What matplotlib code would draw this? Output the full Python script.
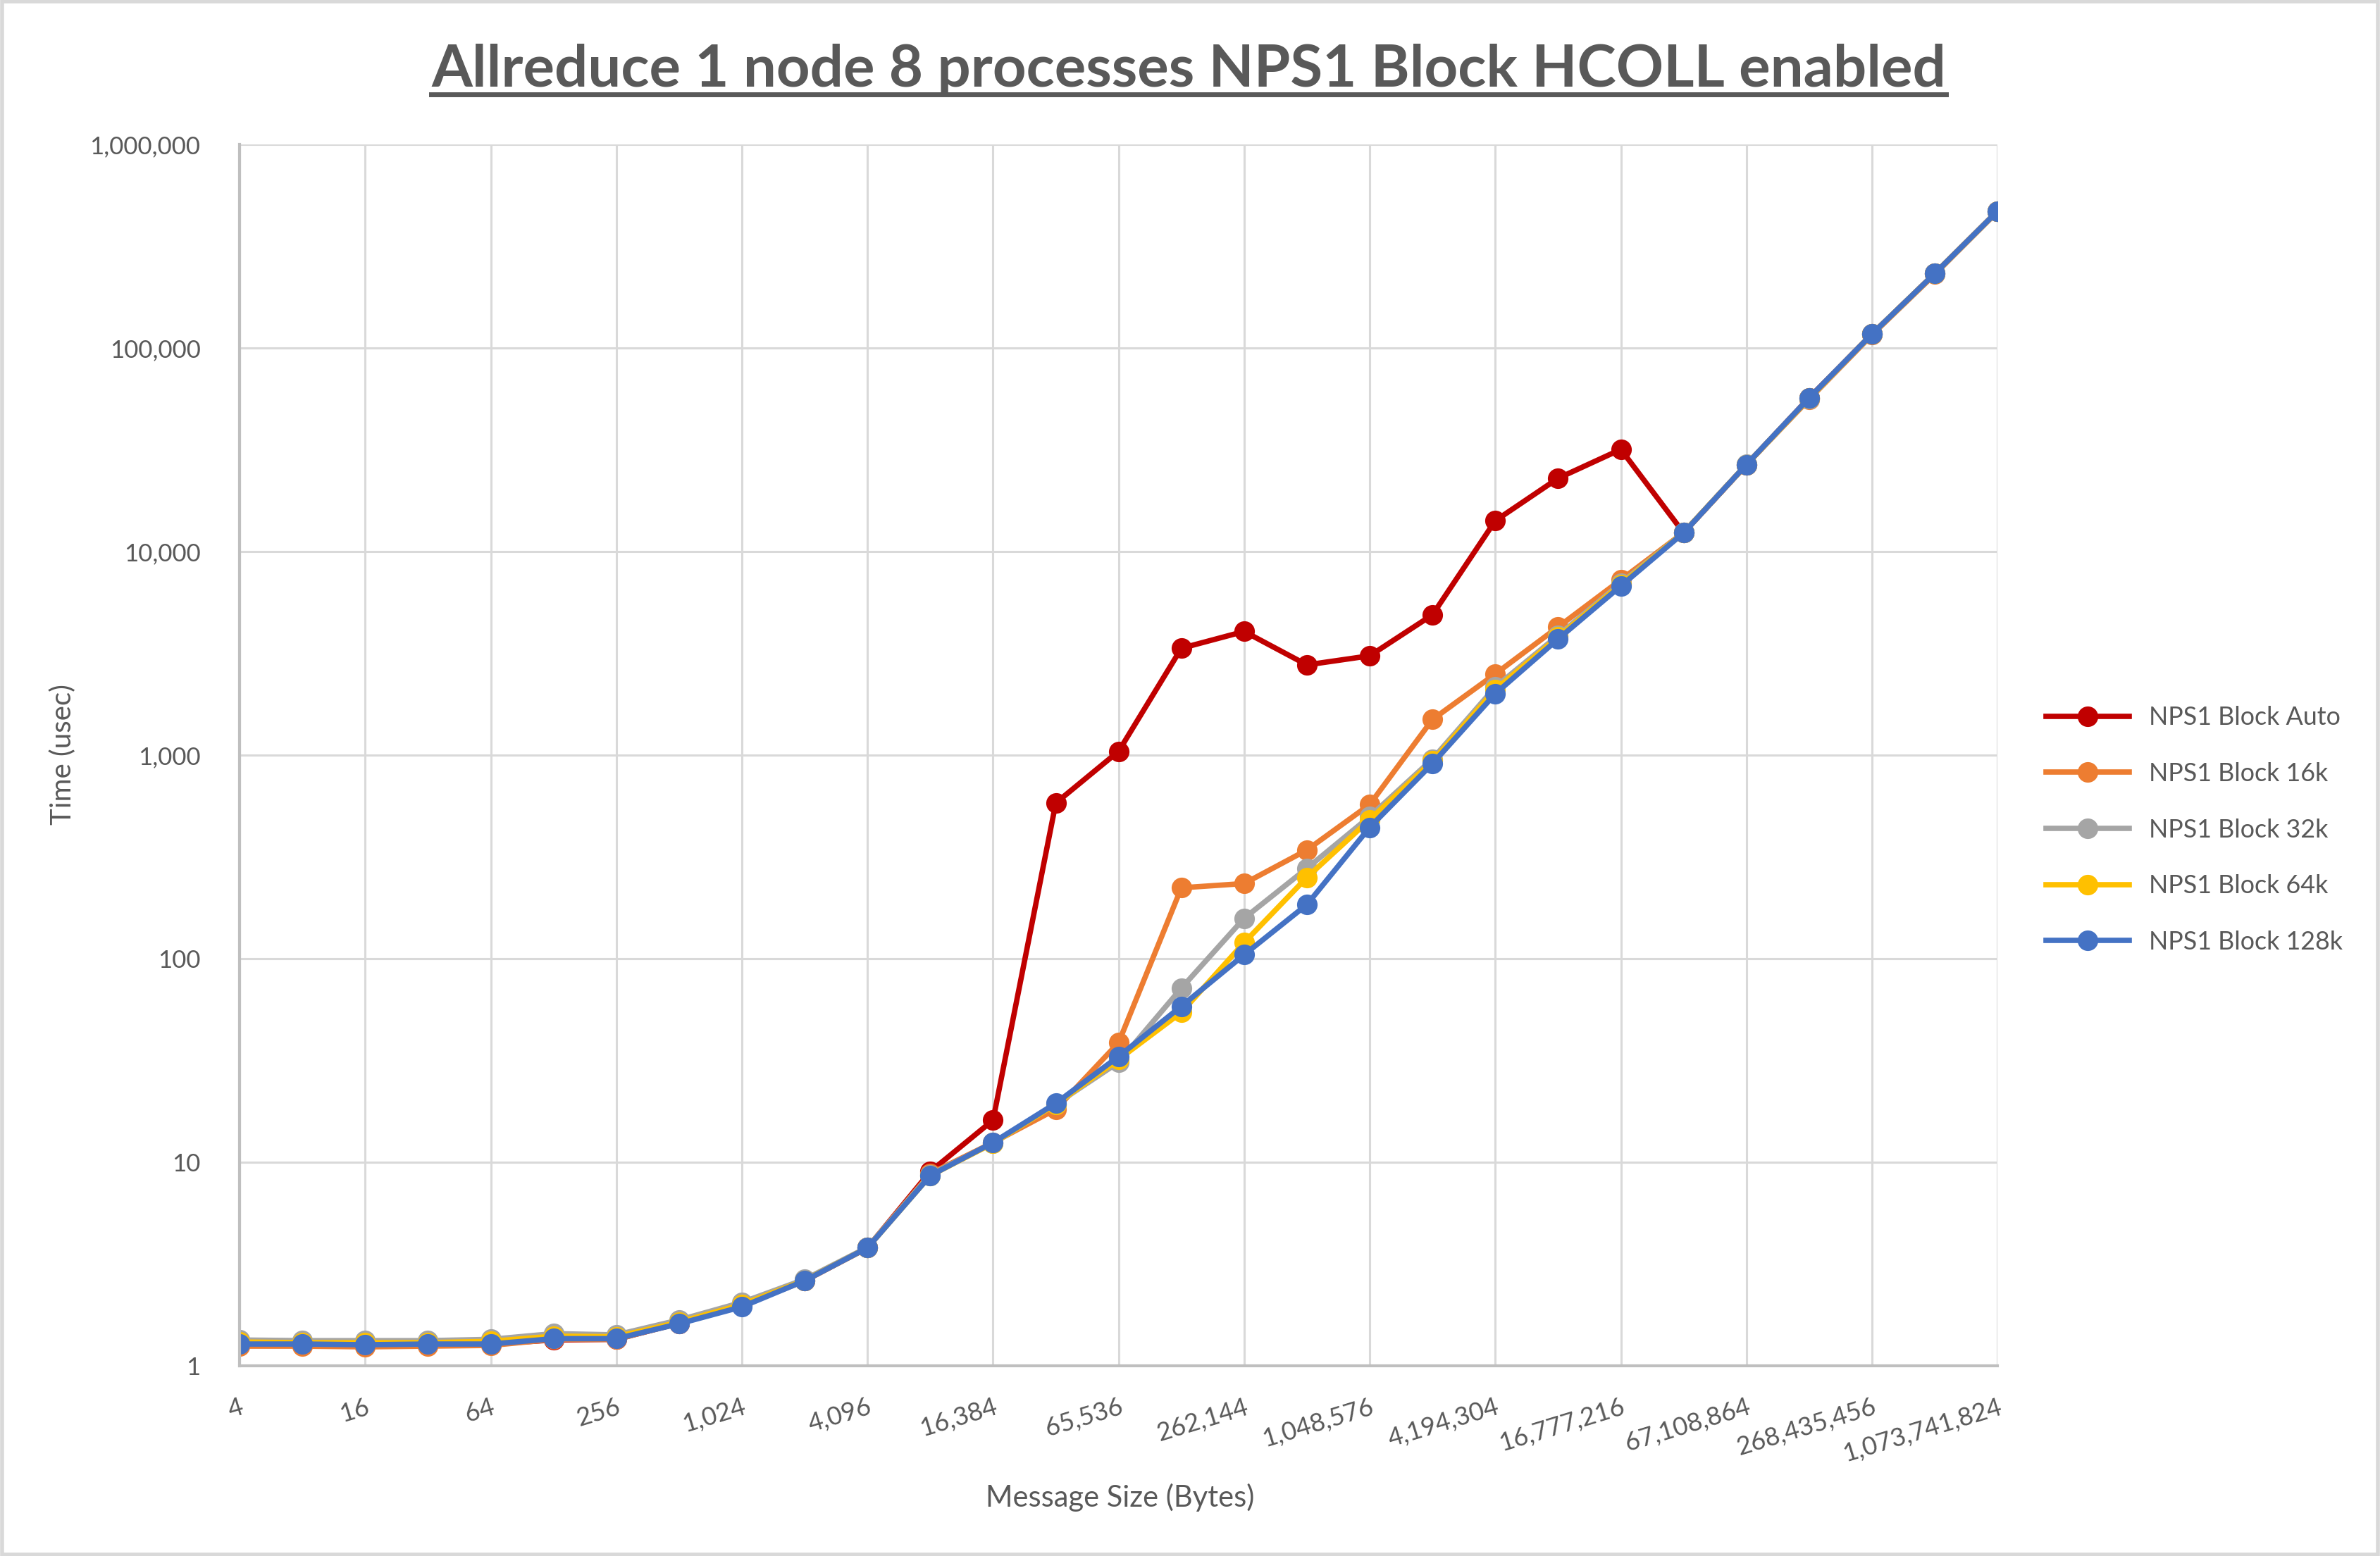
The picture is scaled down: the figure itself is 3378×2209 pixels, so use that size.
import matplotlib
matplotlib.use("Agg")
import matplotlib.pyplot as plt
from matplotlib.lines import Line2D
from matplotlib.patches import Rectangle
from matplotlib.ticker import FixedLocator, NullLocator, FuncFormatter

plt.rcParams['font.family'] = ['Lato', 'DejaVu Sans']

# Message sizes 4 B .. 1 GiB
sizes = [2 ** k for k in range(2, 31)]

# Time (usec) per series
auto = [1.27, 1.27, 1.26, 1.27, 1.28, 1.34, 1.35, 1.62, 1.98, 2.62, 3.80, 9.0, 16.1,
        582, 1044, 3350, 4050, 2775, 3075, 4890, 14170, 22900, 31750, 12360,
        26700, 56900, 117000, 232000, 470000]
block16k = [1.25, 1.25, 1.24, 1.25, 1.26, 1.35, 1.35, 1.62, 1.98, 2.62, 3.80, 8.8, 12.5,
            18.2, 38.7, 223, 234, 342, 572, 1497, 2504, 4260, 7260, 12400,
            26700, 56000, 116000, 230000, 468000]
block32k = [1.34, 1.33, 1.33, 1.33, 1.35, 1.44, 1.42, 1.68, 2.05, 2.66, 3.82, 8.7, 12.4,
            19.3, 31.0, 71.7, 158, 278, 499, 957, 2160, 3870, 7000, 12400,
            26800, 56500, 117000, 232000, 470000]
block64k = [1.31, 1.30, 1.30, 1.30, 1.32, 1.40, 1.39, 1.64, 2.00, 2.63, 3.80, 8.6, 12.4,
            19.3, 32.0, 54.5, 120, 251, 482, 935, 2100, 3800, 6900, 12400,
            26700, 56600, 117000, 232000, 470000]
block128k = [1.28, 1.28, 1.27, 1.28, 1.28, 1.36, 1.36, 1.61, 1.95, 2.62, 3.80, 8.6, 12.5,
             19.5, 33.1, 58.4, 104.6, 184.5, 442, 909, 2003, 3718, 6774, 12360,
             26730, 56900, 117000, 232000, 470000]

series_names = ['NPS1 Block Auto', 'NPS1 Block 16k', 'NPS1 Block 32k',
                'NPS1 Block 64k', 'NPS1 Block 128k']
series_values = [auto, block16k, block32k, block64k, block128k]
series_colors = ['#C00000', '#ED7D31', '#A5A5A5', '#FFC000', '#4472C4']

x_ticks = [2 ** k for k in range(2, 31, 2)]
y_ticks = [1, 10, 100, 1000, 10000, 100000, 1000000]

text_color = '#595959'
grid_color = '#D9D9D9'

fig = plt.figure(figsize=(33.78, 22.09), dpi=100)
ax = fig.add_axes([0.1007, 0.1222, 0.7386, 0.785])

for name, vals, col in zip(series_names, series_values, series_colors):
    ax.plot(sizes, vals, color=col, lw=5.5, marker='o', ms=21,
            markeredgewidth=0, label=name, solid_joinstyle='round')

ax.set_xscale('log', base=2)
ax.set_yscale('log')
ax.set_xlim(4, 2 ** 30)
ax.set_ylim(1, 1000000)

ax.xaxis.set_major_locator(FixedLocator(x_ticks))
ax.xaxis.set_minor_locator(NullLocator())
ax.xaxis.set_major_formatter(FuncFormatter(lambda v, p: f'{int(round(v)):,}'))
ax.yaxis.set_major_locator(FixedLocator(y_ticks))
ax.yaxis.set_minor_locator(NullLocator())
ax.yaxis.set_major_formatter(FuncFormatter(lambda v, p: f'{int(round(v)):,}'))

ax.grid(True, color=grid_color, lw=2.2)
ax.set_axisbelow(True)
ax.tick_params(length=0, colors=text_color, labelsize=25)
ax.tick_params(axis='y', pad=40)
ax.tick_params(axis='x', pad=30, labelsize=26)
for lbl in ax.get_xticklabels():
    lbl.set_rotation(17)
    lbl.set_ha('right')
    lbl.set_va('top')
    lbl.set_rotation_mode('anchor')

for side in ['top', 'right']:
    ax.spines[side].set_visible(False)
for side in ['left', 'bottom']:
    ax.spines[side].set_color('#BFBFBF')
    ax.spines[side].set_linewidth(3)

fig.text(0.0265, 0.515, 'Time (usec)', rotation=90, ha='center', va='center',
         fontsize=29, color=text_color)
fig.text(0.4706, 0.0375, 'Message Size (Bytes)', ha='center', va='center',
         fontsize=30, color=text_color)

title = fig.text(0.4995, 0.955, 'Allreduce 1 node 8 processes NPS1 Block HCOLL enabled',
                 ha='center', va='center', fontsize=60, fontweight='bold',
                 color=text_color)

leg = ax.legend(loc='center left', bbox_to_anchor=(0.850, 0.4667),
                bbox_transform=fig.transFigure, frameon=False, fontsize=25.8,
                handlelength=3.3, handletextpad=0.8, labelspacing=1.3)
for t in leg.get_texts():
    t.set_color(text_color)

# underline the title
fig.canvas.draw()
bb = title.get_window_extent().transformed(fig.transFigure.inverted())
fig.add_artist(Line2D([bb.x0, bb.x1], [0.9395, 0.9395],
                      color=text_color, lw=5, transform=fig.transFigure))

# light frame around the chart
fig.add_artist(Rectangle((0.001, 0.001), 0.998, 0.998, fill=False,
                         edgecolor=grid_color, lw=4, transform=fig.transFigure))

fig.savefig('out.png', dpi=100)
